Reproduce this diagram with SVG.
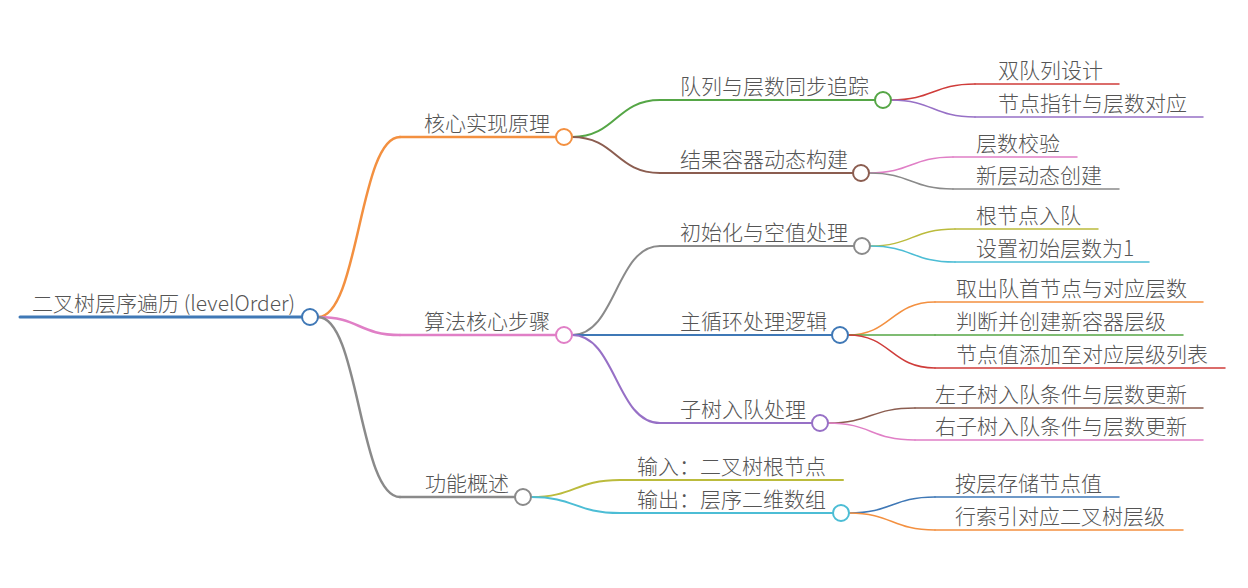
<svg xmlns="http://www.w3.org/2000/svg" width="1248" height="588" viewBox="0 0 1248 588">
<style>
text{font-family:"Noto Sans CJK SC","Noto Sans",sans-serif;font-size:21px;font-weight:300;fill:#555}
.l{fill:none;stroke-linecap:round}
.c{fill:#fff;stroke-width:2}
.d1{stroke-width:2.5}
.d2{stroke-width:2}
.d3{stroke-width:1.5}
.blue{stroke:#3f78b6}.orange{stroke:#f39040}.green{stroke:#55a646}.red{stroke:#cf3c3a}.purple{stroke:#9770c6}.brown{stroke:#8b5d50}.pink{stroke:#e07fc6}.gray{stroke:#8a8a8a}.olive{stroke:#bbbb3c}.cyan{stroke:#4cbdd5}
</style>
<rect width="1248" height="588" fill="#fff"/>
<g id="connectors" class="l">
<path class="d1 orange" d="M318,317 C359,317 359,137 400,137"/>
<path class="d1 pink" d="M318,317 C359,317 359,335 400,335"/>
<path class="d1 gray" d="M318,317 C359,317 359,497 400,497"/>
<path class="d2 green" d="M572,137 C616,137 616,100 660,100"/>
<path class="d2 brown" d="M572,137 C616,137 616,173 660,173"/>
<path class="d3 red" d="M891,100 C933,100 933,84 975,84"/>
<path class="d3 purple" d="M891,100 C933,100 933,117 975,117"/>
<path class="d3 pink" d="M869,173 C911,173 911,157 953,157"/>
<path class="d3 gray" d="M869,173 C911,173 911,189 953,189"/>
<path class="d2 gray" d="M572,335 C616,335 616,246 660,246"/>
<path class="d2 blue" d="M572,335 L660,335"/>
<path class="d2 purple" d="M572,335 C616,335 616,423 660,423"/>
<path class="d3 olive" d="M870,246 C912,246 912,229 955,229"/>
<path class="d3 cyan" d="M870,246 C912,246 912,262 955,262"/>
<path class="d3 orange" d="M848,335 C891,335 891,302 935,302"/>
<path class="d3 green" d="M848,335 L935,335"/>
<path class="d3 red" d="M848,335 C891,335 891,368 935,368"/>
<path class="d3 brown" d="M828,423 C871,423 871,408 915,408"/>
<path class="d3 pink" d="M828,423 C871,423 871,440 915,440"/>
<path class="d2 olive" d="M531,497 C575,497 575,480 620,480"/>
<path class="d2 cyan" d="M531,497 C575,497 575,513 620,513"/>
<path class="d3 blue" d="M849,513 C892,513 892,497 935,497"/>
<path class="d3 orange" d="M849,513 C892,513 892,530 935,530"/>
</g>
<g id="root"><path class="l blue" stroke-width="3" d="M20,317 H302"/><circle class="c blue" cx="310" cy="317" r="8"/><text x="32" y="311">二叉树层序遍历 (levelOrder)</text></g>
<g id="n-core"><path class="l d1 orange" d="M400,137 H556"/><circle class="c orange" cx="564" cy="137" r="8"/><text x="424" y="131">核心实现原理</text></g>
<g id="n-queue"><path class="l d2 green" d="M660,100 H875"/><circle class="c green" cx="883" cy="100" r="8"/><text x="680" y="94">队列与层数同步追踪</text></g>
<g id="n-dq"><path class="l d3 red" d="M975,84 H1119"/><text x="998" y="78">双队列设计</text></g>
<g id="n-ptr"><path class="l d3 purple" d="M975,117 H1203"/><text x="998" y="111">节点指针与层数对应</text></g>
<g id="n-result"><path class="l d2 brown" d="M660,173 H853"/><circle class="c brown" cx="861" cy="173" r="8"/><text x="680" y="167">结果容器动态构建</text></g>
<g id="n-check"><path class="l d3 pink" d="M953,157 H1077"/><text x="976" y="151">层数校验</text></g>
<g id="n-newlayer"><path class="l d3 gray" d="M953,189 H1119"/><text x="976" y="183">新层动态创建</text></g>
<g id="n-algo"><path class="l d1 pink" d="M400,335 H556"/><circle class="c pink" cx="564" cy="335" r="8"/><text x="424" y="329">算法核心步骤</text></g>
<g id="n-init"><path class="l d2 gray" d="M660,246 H854"/><circle class="c gray" cx="862" cy="246" r="8"/><text x="680" y="240">初始化与空值处理</text></g>
<g id="n-rootq"><path class="l d3 olive" d="M955,229 H1098"/><text x="976" y="223">根节点入队</text></g>
<g id="n-setlvl"><path class="l d3 cyan" d="M955,262 H1149"/><text x="976" y="256">设置初始层数为1</text></g>
<g id="n-loop"><path class="l d2 blue" d="M660,335 H832"/><circle class="c blue" cx="840" cy="335" r="8"/><text x="680" y="329">主循环处理逻辑</text></g>
<g id="n-take"><path class="l d3 orange" d="M935,302 H1203"/><text x="956" y="296">取出队首节点与对应层数</text></g>
<g id="n-judge"><path class="l d3 green" d="M935,335 H1183"/><text x="956" y="329">判断并创建新容器层级</text></g>
<g id="n-add"><path class="l d3 red" d="M935,368 H1225"/><text x="956" y="362">节点值添加至对应层级列表</text></g>
<g id="n-sub"><path class="l d2 purple" d="M660,423 H812"/><circle class="c purple" cx="820" cy="423" r="8"/><text x="680" y="417">子树入队处理</text></g>
<g id="n-left"><path class="l d3 brown" d="M915,408 H1203"/><text x="935" y="402">左子树入队条件与层数更新</text></g>
<g id="n-right"><path class="l d3 pink" d="M915,440 H1203"/><text x="935" y="434">右子树入队条件与层数更新</text></g>
<g id="n-func"><path class="l d1 gray" d="M400,497 H515"/><circle class="c gray" cx="523" cy="497" r="8"/><text x="425" y="491">功能概述</text></g>
<g id="n-in"><path class="l d2 olive" d="M620,480 H843"/><text x="637" y="474">输入：二叉树根节点</text></g>
<g id="n-out"><path class="l d2 cyan" d="M620,513 H833"/><circle class="c cyan" cx="841" cy="513" r="8"/><text x="637" y="507">输出：层序二维数组</text></g>
<g id="n-store"><path class="l d3 blue" d="M935,497 H1119"/><text x="955" y="491">按层存储节点值</text></g>
<g id="n-row"><path class="l d3 orange" d="M935,530 H1183"/><text x="955" y="524">行索引对应二叉树层级</text></g>
</svg>
